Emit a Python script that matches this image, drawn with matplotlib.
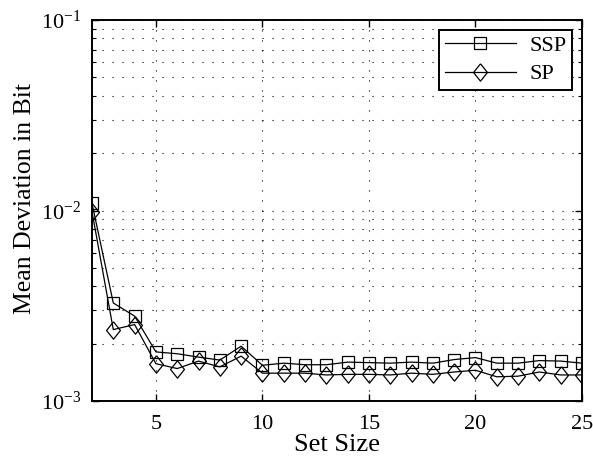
import matplotlib
matplotlib.use('Agg')
import matplotlib.pyplot as plt
from matplotlib.ticker import LogLocator, NullFormatter

plt.rcParams['font.family'] = ['Liberation Serif', 'DejaVu Serif']
plt.rcParams['mathtext.fontset'] = 'stix'

set_size = list(range(2, 26))
ssp = [0.0109, 0.00327, 0.00279, 0.00181, 0.00177, 0.00170, 0.00164, 0.00194,
       0.00154, 0.00158, 0.00155, 0.00155, 0.00160, 0.00159, 0.00158, 0.00160,
       0.00158, 0.00165, 0.00169, 0.00158, 0.00158, 0.00163, 0.00162, 0.00158]
sp = [0.00986, 0.00237, 0.00252, 0.00157, 0.00148, 0.00162, 0.00151, 0.00172,
      0.00140, 0.00140, 0.00140, 0.00137, 0.00138, 0.00138, 0.00137, 0.00140,
      0.00138, 0.00142, 0.00145, 0.00134, 0.00135, 0.00142, 0.00137, 0.00137]

x_ticks = [5, 10, 15, 20, 25]

# diamond a bit taller than wide, like matlab's
diamond = [(0, 1), (0.8, 0), (0, -1), (-0.8, 0), (0, 1)]

fig = plt.figure(figsize=(5.93, 4.62), dpi=100)
ax = fig.add_axes([92 / 593, 61 / 462, 490 / 593, 381 / 462])

ax.plot(set_size, ssp, color='k', lw=0.9, marker='s', ms=8, mfc='none', mec='k',
        mew=0.9, label='SSP')
ax.plot(set_size, sp, color='k', lw=0.9, marker=diamond, ms=12.5, mfc='none', mec='k',
        mew=0.9, label='SP')

ax.set_yscale('log')
ax.set_xlim(2, 25)
ax.set_ylim(1e-3, 1e-1)
ax.set_xticks(x_ticks)
ax.yaxis.set_major_locator(LogLocator(base=10, numticks=5))
ax.yaxis.set_minor_locator(LogLocator(base=10, subs=range(2, 10), numticks=20))
ax.yaxis.set_minor_formatter(NullFormatter())

ax.grid(True, which='major', linestyle=(0, (1, 8)), color='k', lw=0.8)
ax.grid(True, which='minor', axis='y', linestyle=(0, (1, 8)), color='k', lw=0.8)

ax.tick_params(which='both', direction='in', top=True, right=True, labelsize=16)
ax.tick_params(which='major', length=5, width=1.0)
ax.tick_params(which='minor', length=3, width=0.8)
ax.tick_params(axis='x', pad=10)
ax.tick_params(axis='y', pad=8)
for s in ax.spines.values():
    s.set_linewidth(1.4)

ax.set_xlabel('Set Size', fontsize=19, va='center')
ax.xaxis.set_label_coords(0.5, (401 - 445) / 381)
ax.set_ylabel('Mean Deviation in Bit', fontsize=18.5, va='center')
ax.yaxis.set_label_coords((25 - 92) / 490, (401 - 198) / 381)

leg = ax.legend(loc='upper right', fontsize=16, fancybox=False, framealpha=1,
                edgecolor='k', handlelength=3.2, labelspacing=0.35, borderpad=0.25,
                borderaxespad=0.45, handletextpad=0.6)
leg.get_frame().set_linewidth(1.4)

fig.savefig('out.png', dpi=100)
